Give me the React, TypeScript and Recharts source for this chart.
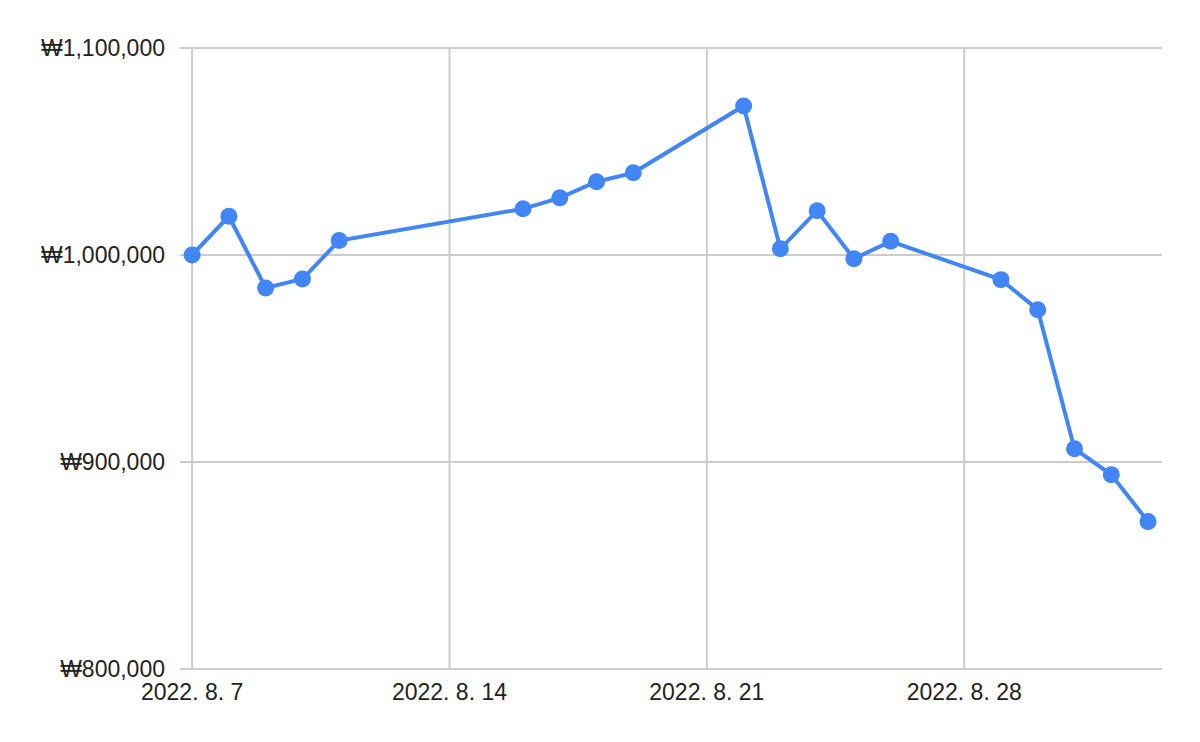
import { CartesianGrid, Line, LineChart, ReferenceLine, XAxis, YAxis } from "recharts";

const DAY = 24 * 60 * 60 * 1000;

const dates = [
	"2022-08-07", "2022-08-08", "2022-08-09", "2022-08-10", "2022-08-11",
	"2022-08-16", "2022-08-17", "2022-08-18", "2022-08-19",
	"2022-08-22", "2022-08-23", "2022-08-24", "2022-08-25", "2022-08-26",
	"2022-08-29", "2022-08-30", "2022-08-31", "2022-09-01", "2022-09-02",
];

const values = [
	1000000, 1018700, 984100, 988400, 1007000,
	1022300, 1027600, 1035400, 1039700,
	1072000, 1003000, 1021400, 998200, 1006600,
	988100, 973600, 906400, 893900, 871200,
];

const xTickDates = ["2022-08-07", "2022-08-14", "2022-08-21", "2022-08-28"];
const yTicks = [800000, 900000, 1000000, 1100000];

const toTime = (s: string) => new Date(s + "T00:00:00Z").getTime();

const data = dates.map((d, i) => ({ t: toTime(d), value: values[i] }));
const xTicks = xTickDates.map(toTime);

const formatDate = (t: number) => {
	const d = new Date(t);
	return `${d.getUTCFullYear()}. ${d.getUTCMonth() + 1}. ${d.getUTCDate()}`;
};

const formatWon = (v: number) => "₩" + v.toLocaleString("en-US");

const font = { fontFamily: "'Liberation Sans', Arial, sans-serif", fontSize: 23, fill: "#222222" };

export default function App() {
	const first = data[0].t;
	const last = data[data.length - 1].t;
	return (
		<div style={{ position: "fixed", left: 0, top: 0, width: 1200, height: 742, background: "white" }}>
			<LineChart width={1200} height={742} data={data} margin={{ top: 48, right: 38, left: 0, bottom: 0 }}>
				<CartesianGrid stroke="#cccccc" strokeWidth={2} vertical={false} />
				{xTicks.map((t) => (
					<ReferenceLine key={t} x={t} stroke="#cccccc" strokeWidth={2} />
				))}
				<XAxis
					dataKey="t"
					type="number"
					domain={[first - 0.33 * DAY, last + 0.38 * DAY]}
					ticks={xTicks}
					tickFormatter={formatDate}
					axisLine={false}
					tickLine={false}
					tickSize={0}
					tickMargin={15}
					height={73}
					tick={font}
				/>
				<YAxis
					domain={[800000, 1100000]}
					ticks={yTicks}
					tickFormatter={formatWon}
					axisLine={false}
					tickLine={false}
					tickSize={0}
					tickMargin={15}
					width={180}
					tick={font}
				/>
				<Line
					dataKey="value"
					stroke="#4285F4"
					strokeWidth={4}
					dot={{ r: 8.5, fill: "#4285F4", stroke: "none" }}
					activeDot={false}
					isAnimationActive={false}
				/>
			</LineChart>
		</div>
	);
}
